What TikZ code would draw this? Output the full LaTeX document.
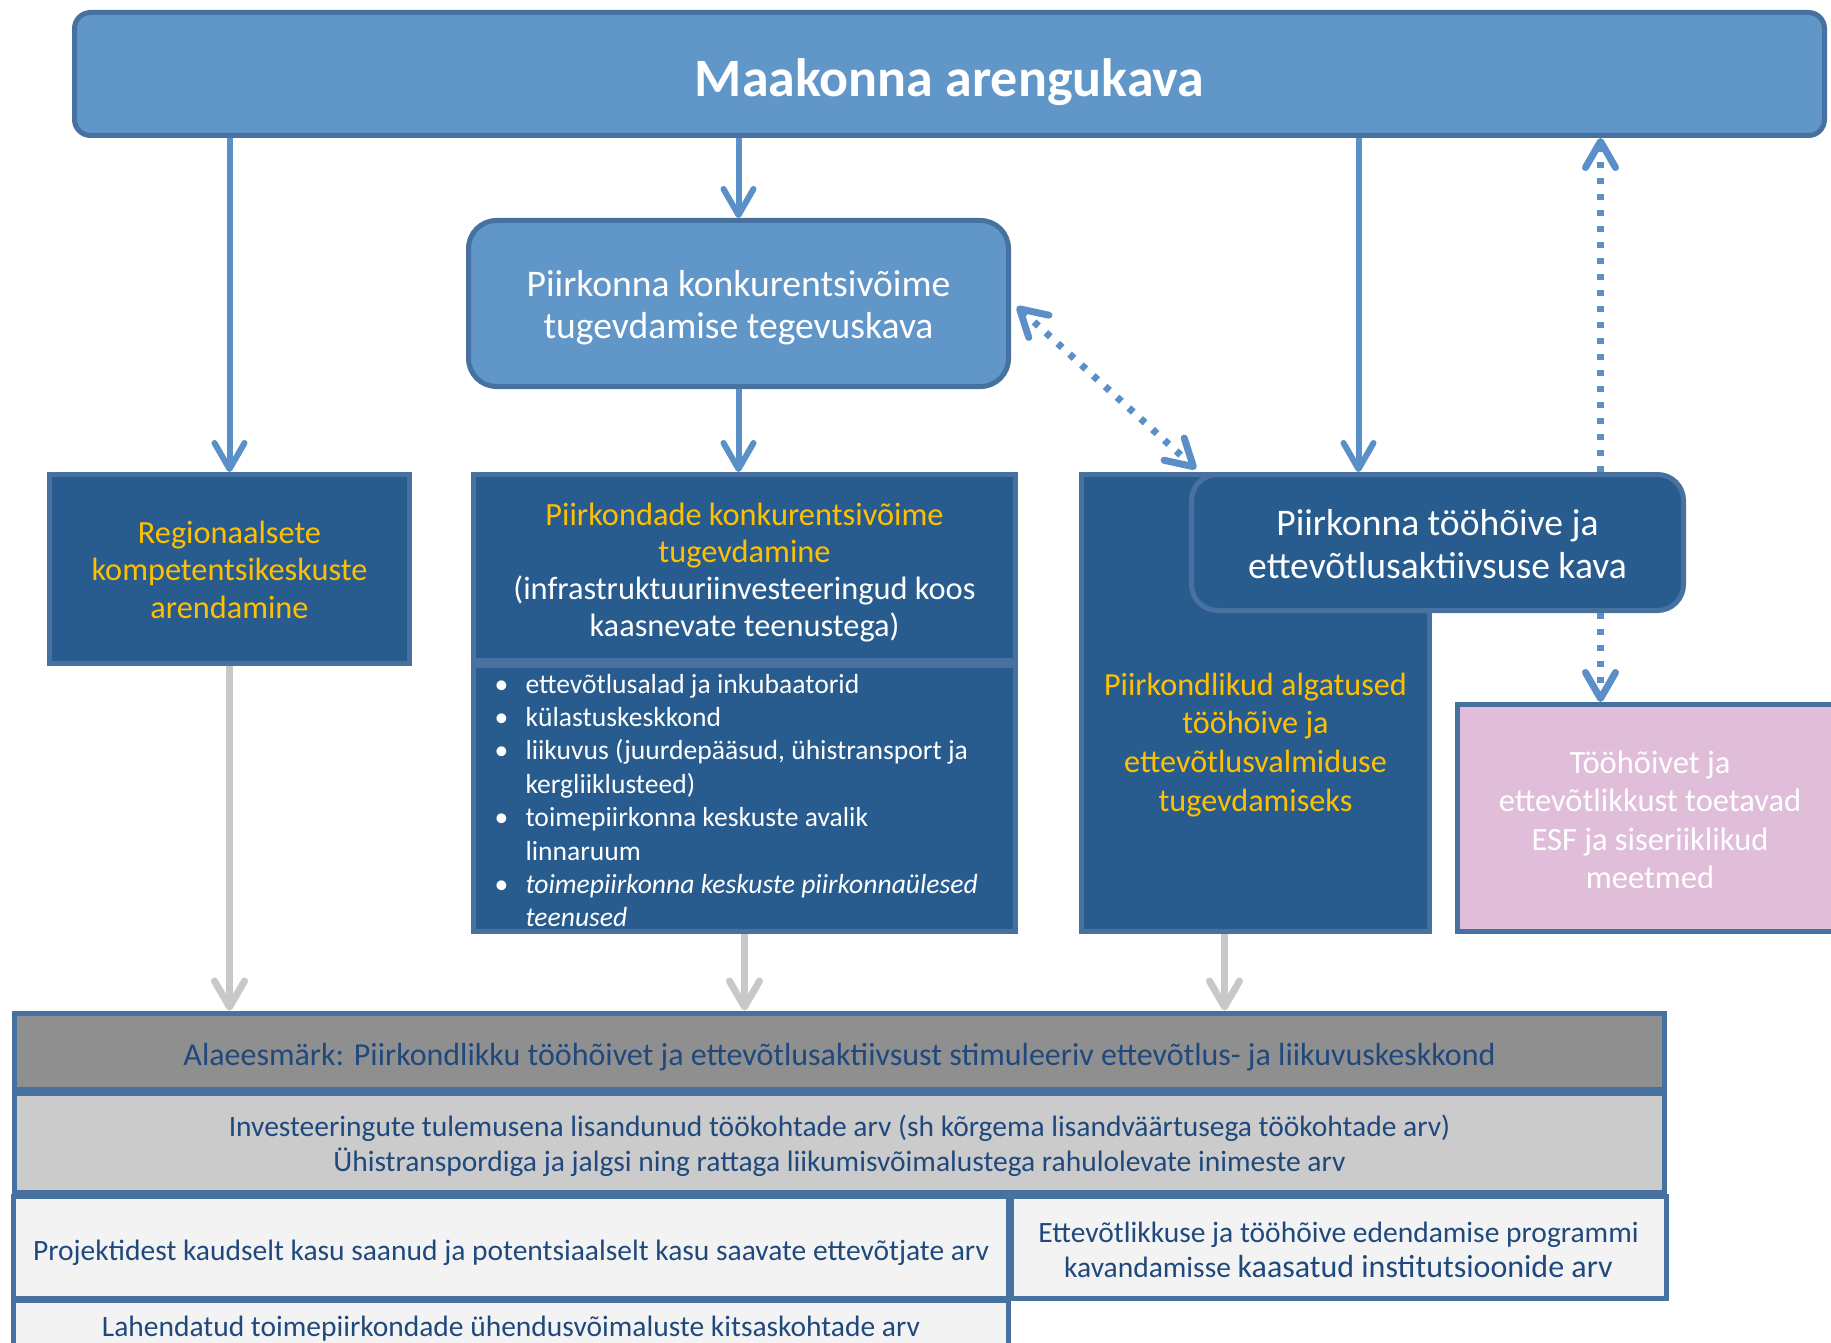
\documentclass[tikz,border=0pt]{standalone}
\usepackage{fontspec}
\setmainfont{Carlito}
\usetikzlibrary{arrows.meta}

\definecolor{planfill}{RGB}{97,150,201}
\definecolor{boxfill}{RGB}{40,92,143}
\definecolor{edge}{RGB}{71,114,160}
\definecolor{link}{RGB}{91,143,199}
\definecolor{gold}{RGB}{255,192,0}
\definecolor{esffill}{RGB}{224,190,218}
\definecolor{greylink}{RGB}{200,200,200}
\definecolor{rowone}{RGB}{143,143,143}
\definecolor{rowtwo}{RGB}{203,203,203}
\definecolor{rowthree}{RGB}{243,243,243}
\definecolor{rowtext}{RGB}{31,73,125}

\newcommand{\fsz}[2]{\fontsize{#1}{#2}\selectfont}
\newcommand{\bul}[1]{\hangindent=31pt\hangafter=1\noindent\makebox[31pt][l]{\textbullet}#1\par}

\begin{document}
\begin{tikzpicture}
[x=1pt,y=-1pt,>={Straight Barb[length=26pt,width=30pt,round]},
plan/.style={draw=edge,fill=planfill,line width=5pt,rounded corners=16pt,text=white,align=center},
darkbox/.style={draw=edge,fill=boxfill,line width=5pt,text=white,align=center},
roundbox/.style={darkbox,rounded corners=26pt},
row/.style={draw=edge,line width=5pt,text=rowtext,align=center,font=\fsz{29.5}{34.5}},
downarrow/.style={draw=link,line width=6pt,->},
dotline/.style={draw=link,line width=7pt,dash pattern=on 6pt off 10pt},
greyarrow/.style={draw=greylink,line width=7pt,->},
]

\useasboundingbox (0,0) rectangle (1831,1343);
\clip (0,0) rectangle (1831,1343);

%Plans
\node[plan,minimum width=1750pt,minimum height=123pt,font=\fsz{54}{60}\bfseries,text height=46pt,text depth=0pt] (plan) at (949.5,74) {Maakonna arengukava};
\node[plan,rounded corners=28pt,minimum width=540pt,minimum height=166pt,font=\fsz{37.6}{42},text height=78.4pt,text depth=8pt] (tegevus) at (738.5,303.5) {Piirkonna konkurentsivõime\\tugevdamise tegevuskava};

%Measures
\node[darkbox,minimum width=360pt,minimum height=189pt,text=gold,font=\fsz{32.3}{37.5},text height=106.6pt,text depth=8pt] (regio) at (229.5,569) {Regionaalsete\\kompetentsikeskuste\\arendamine};
\node[darkbox,minimum width=542pt,minimum height=186pt,font=\fsz{32.4}{37.2},text height=146.4pt,text depth=8pt] (konk) at (744.5,567.5) {\textcolor{gold}{Piirkondade konkurentsivõime}\\\textcolor{gold}{tugevdamine}\\(infrastruktuuriinvesteeringud koos\\kaasnevate teenustega)};
\node[darkbox,minimum width=542pt,minimum height=266pt] (list) at (744.5,798.5) {};
\node[text=white,text width=510pt,align=flush left,font=\fsz{27.6}{33.4},inner sep=0pt,text height=20pt,text depth=231pt] (items) at ([xshift=5pt]list.center) {%
\bul{ettevõtlusalad ja inkubaatorid}
\bul{külastuskeskkond}
\bul{liikuvus (juurdepääsud, ühistransport ja\newline kergliiklusteed)}
\bul{toimepiirkonna keskuste avalik\newline linnaruum}
\bul{\textit{toimepiirkonna keskuste piirkonnaülesed\newline teenused}}};
\node[darkbox,minimum width=348pt,minimum height=457pt,text=gold,font=\fsz{32.2}{38.9},text height=225.4pt,text depth=8pt] (piirk) at (1255.5,703) {Piirkondlikud algatused\\tööhõive ja\\ettevõtlusvalmiduse\\tugevdamiseks};
\node[roundbox,minimum width=492pt,minimum height=136pt,font=\fsz{37.6}{43.3},text height=79.6pt,text depth=8pt] (kava) at (1437.5,542.5) {Piirkonna tööhõive ja\\ettevõtlusaktiivsuse kava};
\node[darkbox,fill=esffill,minimum width=385pt,minimum height=227pt,font=\fsz{32.5}{38.3},text height=148.6pt,text depth=8pt] (esf) at (1650,818) {Tööhõivet ja\\ettevõtlikkust toetavad\\ESF ja siseriiklikud\\meetmed};

%Indicators
\node[row,fill=rowone,minimum width=1650pt,minimum height=76pt,font=\fsz{32}{38},text height=28pt,text depth=0pt] (alae) at (839.5,1051) {Alaeesmärk: Piirkondlikku tööhõivet ja ettevõtlusaktiivsust stimuleeriv ettevõtlus- ja liikuvuskeskkond};
\node[row,fill=rowtwo,minimum width=1650pt,minimum height=99pt,text height=65pt,text depth=8pt] (tulem) at (839.5,1142.5) {Investeeringute tulemusena lisandunud töökohtade arv (sh kõrgema lisandväärtusega töökohtade arv)\\Ühistranspordiga ja jalgsi ning rattaga liikumisvõimalustega rahulolevate inimeste arv};
\node[row,fill=rowthree,minimum width=995pt,minimum height=102pt,text height=26pt,text depth=0pt] (ettev) at (511,1247) {Projektidest kaudselt kasu saanud ja potentsiaalselt kasu saavate ettevõtjate arv};
\node[row,fill=rowthree,minimum width=655pt,minimum height=102pt,font=\fsz{29.5}{35},text height=68pt,text depth=8pt] (instit) at (1338.5,1247) {Ettevõtlikkuse ja tööhõive edendamise programmi\\kavandamisse {\fsz{32}{35}kaasatud institutsioonide arv}};
\node[row,fill=rowthree,minimum width=995pt,minimum height=60pt,text height=20pt,text depth=6.6pt] (kitsas) at (511,1330) {Lahendatud toimepiirkondade ühendusvõimaluste kitsaskohtade arv};

%Drawing arrows
\coordinate (kavain) at ([xshift=-79pt]kava.north);
\coordinate (kavaout) at ([xshift=163pt]kava.north);
\coordinate (piirkout) at ([xshift=-31pt]piirk.south);
\draw[downarrow] (plan.south -| regio.north) -- (regio.north);
\draw[downarrow] (plan.south -| tegevus.north) -- (tegevus.north);
\draw[downarrow] (tegevus.south) -- (tegevus.south |- konk.north);
\draw[downarrow] (plan.south -| kavain) -- (kavain);
\draw[dotline,->] (kavaout) -- (plan.south -| kavaout);
\draw[dotline,->] (kavaout |- kava.south) -- (kavaout |- esf.north);
\draw[dotline,<->] ([xshift=6pt,yshift=-3pt]tegevus.east) -- ([xshift=7pt,yshift=3pt]kava.north west);
\draw[greyarrow] (regio.south) -- (regio.south |- alae.north);
\draw[greyarrow] (list.south) -- (list.south |- alae.north);
\draw[greyarrow] (piirkout) -- (piirkout |- alae.north);

\end{tikzpicture}
\end{document}
